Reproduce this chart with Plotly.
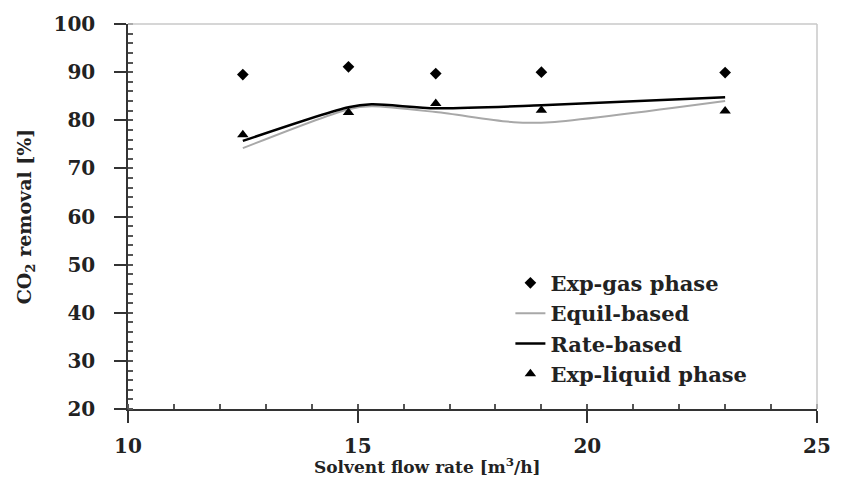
import plotly.graph_objects as go

# Experimental data
x_exp = [12.5, 14.8, 16.7, 19.0, 23.0]
gas_phase = [89.5, 91.1, 89.7, 90.0, 89.9]
liquid_phase = [77.0, 81.6, 83.5, 82.1, 81.9]

# Model curves
x_equil = [12.5, 14.8, 15.3, 16.7, 18.4, 19.2, 23.0]
equil_based = [74.2, 82.3, 82.9, 81.7, 79.6, 79.6, 84.0]
x_rate = [12.5, 14.8, 15.3, 16.7, 19.0, 23.0]
rate_based = [75.7, 82.7, 83.3, 82.5, 83.1, 84.8]

FONT = "DejaVu Serif"

fig = go.Figure()
fig.add_trace(go.Scatter(x=x_exp, y=gas_phase, mode="markers", name="Exp-gas phase",
                         marker=dict(symbol="diamond", size=9, color="black")))
fig.add_trace(go.Scatter(x=x_equil, y=equil_based, mode="lines", name="Equil-based",
                         line=dict(color="#a8a8a8", width=2, shape="spline", smoothing=0.8)))
fig.add_trace(go.Scatter(x=x_rate, y=rate_based, mode="lines", name="Rate-based",
                         line=dict(color="black", width=2.5, shape="spline", smoothing=0.8)))
fig.add_trace(go.Scatter(x=x_exp, y=liquid_phase, mode="markers", name="Exp-liquid phase",
                         marker=dict(symbol="triangle-up", size=10, color="black")))

axis_common = dict(
    showgrid=False, zeroline=False, showline=True, linecolor="#333333", linewidth=1.5,
    ticks="outside", ticklen=12, tickwidth=1.5, tickcolor="#333333",
    ticklabeloverflow="allow",
    tickfont=dict(family=FONT, size=20, color="#222222", weight="bold"),
)

fig.update_xaxes(range=[10, 25], tick0=10, dtick=5, ticklabelstandoff=6,
                 minor=dict(dtick=1, ticks="inside", ticklen=5, tickcolor="#555555"),
                 **axis_common)
fig.update_yaxes(range=[20, 100], tick0=20, dtick=10, ticklabelstandoff=15,
                 minor=dict(dtick=2, ticks="inside", ticklen=5, tickcolor="#555555"),
                 title=dict(text="<b>CO<sub>2</sub> removal [%]</b>",
                            font=dict(family=FONT, size=19, color="#222222"), standoff=17),
                 **axis_common)

fig.add_annotation(text="<b>Solvent flow rate [m<sup>3</sup>/h]</b>",
                   xref="paper", yref="paper", x=0.435, y=-0.147,
                   xanchor="center", yanchor="middle", showarrow=False,
                   font=dict(family=FONT, size=17, color="#222222"))

fig.add_shape(type="line", xref="paper", yref="paper", x0=0, x1=1, y0=1, y1=1,
              line=dict(color="#c8c8c8", width=1.5))
fig.add_shape(type="line", xref="paper", yref="paper", x0=1, x1=1, y0=0, y1=1,
              line=dict(color="#c8c8c8", width=1.5))

fig.update_layout(
    width=843, height=497,
    margin=dict(l=128, r=15, t=22, b=88),
    plot_bgcolor="white", paper_bgcolor="white",
    showlegend=True,
    legend=dict(x=0.555, y=0.38, xanchor="left", yanchor="top",
                bgcolor="rgba(0,0,0,0)", tracegroupgap=0, itemwidth=30,
                font=dict(family=FONT, size=21, color="#222222", weight="bold")),
)

fig.write_html("out.html")
